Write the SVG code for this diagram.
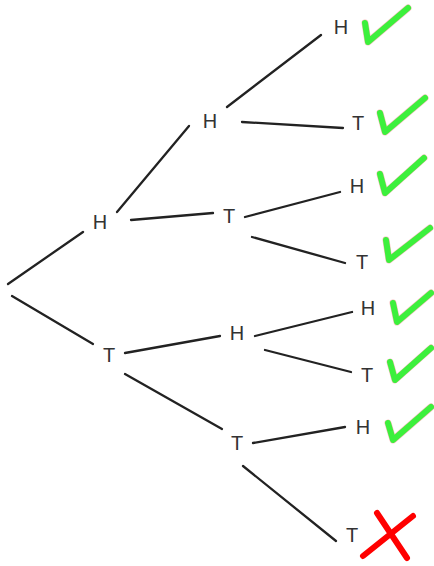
<svg xmlns="http://www.w3.org/2000/svg" width="434" height="566" viewBox="0 0 434 566">
<style>
.lbl{font-family:"Liberation Sans",Arial,sans-serif;font-size:20px;fill:#333;text-anchor:middle}
.ln{stroke:#222;stroke-width:2.3;stroke-linecap:round;fill:none}
.ok{stroke:#3cf03c;stroke-width:6;stroke-linecap:round;stroke-linejoin:round;fill:none}
.okb{stroke:#f08080;stroke-width:7;stroke-linecap:round;stroke-linejoin:round;fill:none;opacity:0.5}
.no{stroke:#ff0000;stroke-width:6;stroke-linecap:round;fill:none}
</style>
<rect width="434" height="566" fill="#fff"/>
<g id="connectors">
<line class="ln" x1="8" y1="284" x2="83" y2="232"/>
<line class="ln" x1="12" y1="296" x2="93" y2="344"/>
<line class="ln" x1="117" y1="212" x2="189" y2="126"/>
<line class="ln" x1="131" y1="220" x2="213" y2="213"/>
<line class="ln" x1="227" y1="107" x2="321" y2="35"/>
<line class="ln" x1="242" y1="122" x2="343" y2="128"/>
<line class="ln" x1="245" y1="217" x2="340" y2="192"/>
<line class="ln" x1="252" y1="237" x2="345" y2="263"/>
<line class="ln" x1="125" y1="353" x2="220" y2="336"/>
<line class="ln" x1="125" y1="374" x2="222" y2="429"/>
<line class="ln" x1="255" y1="336" x2="352" y2="312"/>
<line class="ln" x1="265" y1="350" x2="351" y2="372"/>
<line class="ln" x1="253" y1="443" x2="345" y2="427"/>
<line class="ln" x1="243" y1="466" x2="336" y2="541"/>
</g>
<g id="n-H1"><text class="lbl" x="100" y="229">H</text></g>
<g id="n-T1"><text class="lbl" x="109" y="362">T</text></g>
<g id="n-HH"><text class="lbl" x="210" y="128">H</text></g>
<g id="n-HT"><text class="lbl" x="229" y="223">T</text></g>
<g id="n-TH"><text class="lbl" x="237" y="340">H</text></g>
<g id="n-TT"><text class="lbl" x="237" y="450">T</text></g>
<g id="n-HHH"><text class="lbl" x="341" y="34">H</text>
<polyline class="okb" points="365,23 368,42 408,8"/><polyline class="ok" points="365,23 368,42 408,8"/></g>
<g id="n-HHT"><text class="lbl" x="358" y="130">T</text>
<polyline class="okb" points="380,113 385,132 425,98"/><polyline class="ok" points="380,113 385,132 425,98"/></g>
<g id="n-HTH"><text class="lbl" x="357" y="193">H</text>
<polyline class="okb" points="380,174 385,193 424,158"/><polyline class="ok" points="380,174 385,193 424,158"/></g>
<g id="n-HTT"><text class="lbl" x="362" y="269">T</text>
<polyline class="okb" points="386,240 389,260 430,228"/><polyline class="ok" points="386,240 389,260 430,228"/></g>
<g id="n-THH"><text class="lbl" x="368" y="315">H</text>
<polyline class="okb" points="393,303 397,322 431,293"/><polyline class="ok" points="393,303 397,322 431,293"/></g>
<g id="n-THT"><text class="lbl" x="367" y="382">T</text>
<polyline class="okb" points="390,362 395,380 431,348"/><polyline class="ok" points="390,362 395,380 431,348"/></g>
<g id="n-TTH"><text class="lbl" x="363" y="434">H</text>
<polyline class="okb" points="388,423 393,440 431,407"/><polyline class="ok" points="388,423 393,440 431,407"/></g>
<g id="n-TTT"><text class="lbl" x="352" y="542">T</text>
<line class="no" x1="377" y1="513" x2="407" y2="558"/>
<line class="no" x1="413" y1="516" x2="363" y2="556"/></g>
</svg>
